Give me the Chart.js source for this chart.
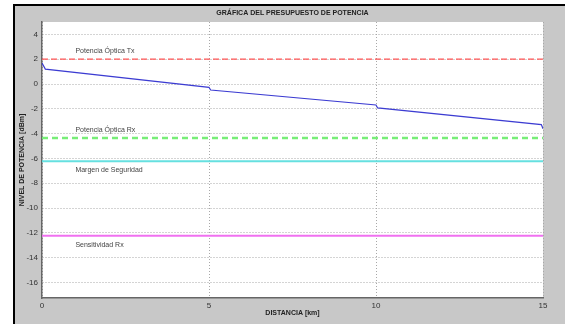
<!DOCTYPE html>
<html>
<head>
<meta charset="utf-8">
<script src="https://cdn.jsdelivr.net/npm/chart.js@4.4.0/dist/chart.umd.min.js"></script>
<style>
body { margin:0; background:#fff; }
#wrap { position:absolute; left:13px; top:4px; width:550px; height:318px; border-left:2px solid #000; border-top:2px solid #000; background:#c8c8c8; }
</style>
</head>
<body>
<div id="wrap"><canvas id="myChart" width="550" height="318"></canvas></div>
<script>
// distancia [km] y nivel de potencia [dBm]
var distancia = [0, 0.1, 5, 5.05, 10, 10.05, 14.95, 15]
var nivel = [1.7, 1.2, -0.27, -0.48, -1.69, -1.93, -3.27, -3.6]

// niveles de referencia
var potTx = 2
var potRx = -4.35
var margen = -6.22
var sensRx = -12.23
var xExtremos = [0, 15]

// etiquetas dentro del grafico
var etiquetas = ["Potencia Óptica Tx", "Potencia Óptica Rx", "Margen de Seguridad", "Sensitividad Rx"]
var etiquetaX = [1, 1, 1, 1]
var etiquetaY = [2.68, -3.68, -6.97, -13.0]

var titulo = "GRÁFICA DEL PRESUPUESTO DE POTENCIA"
var tituloX = "DISTANCIA [km]"
var tituloY = "NIVEL DE POTENCIA [dBm]"

var fuente = "'Liberation Sans Narrow', 'Liberation Sans', Arial, sans-serif"

function linea(valor){
    return xExtremos.map(x => ({x: x, y: valor}))
}

var textosPlugin = {
    id: "textos",
    afterDatasetsDraw(chart){
        let ctx = chart.ctx
        let xs = chart.scales.x
        let ys = chart.scales.y
        ctx.save()
        ctx.font = "7px " + fuente
        ctx.fillStyle = "#444"
        ctx.textAlign = "left"
        ctx.textBaseline = "middle"
        for(let i=0;i<etiquetas.length;i++){
            ctx.fillText(etiquetas[i], xs.getPixelForValue(etiquetaX[i]), ys.getPixelForValue(etiquetaY[i]))
        }
        ctx.restore()
    }
}

var fondoPlugin = {
    id: "fondo",
    beforeDraw(chart){
        let a = chart.chartArea
        chart.ctx.save()
        chart.ctx.fillStyle = "#fff"
        chart.ctx.fillRect(a.left, a.top, a.right-a.left, a.bottom-a.top)
        chart.ctx.restore()
    }
}

const ctx = document.getElementById("myChart");
var chart = new Chart(ctx, {
    type: "line",
    data: {
        datasets: [
        {
            label: "Potencia Óptica Tx",
            data: linea(potTx),
            borderColor: "#ff5555",
            borderWidth: 1.2,
            borderDash: [6,3]
        },
        {
            label: "Potencia Óptica Rx",
            data: linea(potRx),
            borderColor: "#77ee77",
            borderWidth: 2.5,
            borderDash: [6,4]
        },
        {
            label: "Margen de Seguridad",
            data: linea(margen),
            borderColor: "#66e0e0",
            borderWidth: 2
        },
        {
            label: "Sensitividad Rx",
            data: linea(sensRx),
            borderColor: "#f070f0",
            borderWidth: 2
        },
        {
            label: "Nivel",
            data: distancia.map((d,i) => ({x: d, y: nivel[i]})),
            borderColor: "#3c3cd2",
            borderWidth: 1.2
        }
        ]
    },
    options: {
        responsive: false,
        animation: false,
        events: [],
        elements: { point: { radius: 0 }, line: { tension: 0 } },
        layout: { padding: { left: 0, right: 22, top: 0, bottom: 0 } },
        plugins: {
            legend: { display: false },
            tooltip: { enabled: false },
            title: {
                display: true,
                text: titulo,
                fullSize: false,
                color: "#222",
                font: { family: fuente, size: 7, weight: "bold", lineHeight: 1.2 },
                padding: { top: 3, bottom: 4.6 }
            }
        },
        scales: {
            x: {
                type: "linear",
                min: 0,
                max: 15,
                afterFit: s => { s.height = 26 },
                ticks: { stepSize: 5, padding: 3, color: "#333", font: { family: fuente, size: 8 }, maxRotation: 0 },
                grid: { color: "#a8a8a8", drawTicks: false },
                border: { color: "#666", width: 1.5, dash: [1,2] },
                title: { display: true, text: tituloX, color: "#222", font: { family: fuente, size: 7, weight: "bold", lineHeight: 1.2 }, padding: { top: 0, bottom: 6.5 } }
            },
            y: {
                type: "linear",
                min: -17.25,
                max: 5,
                afterFit: s => { s.width = 27 },
                ticks: { stepSize: 2, includeBounds: false, padding: 4, color: "#333", font: { family: fuente, size: 8 } },
                grid: { color: "#a8a8a8", drawTicks: false },
                border: { color: "#666", width: 1.5, dash: [1,2] },
                title: { display: true, text: tituloY, color: "#222", font: { family: fuente, size: 7, weight: "bold", lineHeight: 1.2 }, padding: { top: 2.5, bottom: 0 } }
            }
        }
    },
    plugins: [fondoPlugin, textosPlugin]
});
</script>
</body>
</html>
